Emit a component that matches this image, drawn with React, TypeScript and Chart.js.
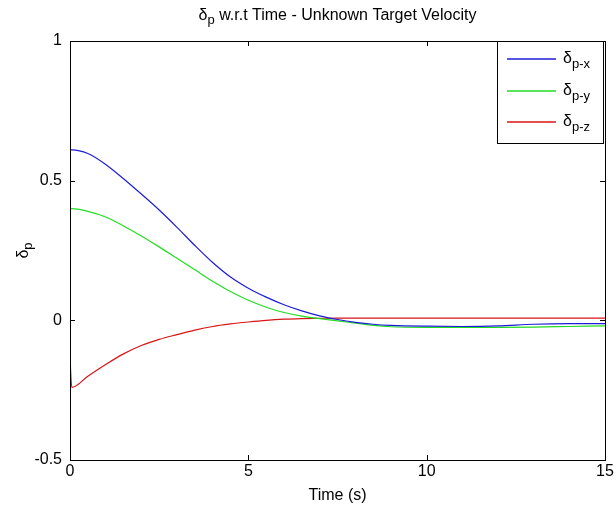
import React, { useEffect, useRef } from 'react';
import { Chart, registerables } from 'chart.js';

Chart.register(...registerables);

// ---- data ----
const timeS = [0, 0.05, 0.5, 1, 1.5, 2, 2.5, 3, 3.5, 4, 4.5, 5, 5.5, 6, 6.5, 7, 7.5, 8, 8.5, 9, 10, 11, 12, 13, 14, 15];
const deltaPX = [0.61, 0.61, 0.597, 0.558, 0.507, 0.452, 0.395, 0.333, 0.268, 0.207, 0.155, 0.115, 0.083, 0.056, 0.034, 0.016, 0.003, -0.007, -0.014, -0.018, -0.021, -0.022, -0.02, -0.014, -0.012, -0.012];
const deltaPY = [0.4, 0.4, 0.39, 0.37, 0.338, 0.302, 0.263, 0.222, 0.181, 0.14, 0.103, 0.072, 0.047, 0.028, 0.015, 0.006, -0.002, -0.01, -0.018, -0.023, -0.025, -0.025, -0.025, -0.024, -0.022, -0.02];
const deltaPZ = [-0.135, -0.24, -0.2, -0.158, -0.12, -0.09, -0.068, -0.051, -0.035, -0.022, -0.013, -0.006, 0.0, 0.004, 0.006, 0.007, 0.008, 0.008, 0.008, 0.008, 0.008, 0.008, 0.008, 0.008, 0.008, 0.008];

const seriesSubs = ['p-x', 'p-y', 'p-z'];
const seriesColors = ['#1c1cd6', '#22dd22', '#d81414'];
const xTickValues = [0, 5, 10, 15];
const yTickValues = [-0.5, 0, 0.5, 1];

const titleMain = 'δ';
const titleSub = 'p';
const titleRest = ' w.r.t Time - Unknown Target Velocity';
const xLabel = 'Time (s)';
const yLabelMain = 'δ';
const yLabelSub = 'p';

const FONT = '"Liberation Sans", Arial, sans-serif';

function measureSubText(
  ctx: CanvasRenderingContext2D,
  main: string,
  sub: string,
  rest: string,
  size: number,
  subSize: number
): number {
  ctx.font = `${size}px ${FONT}`;
  const w1 = ctx.measureText(main).width;
  ctx.font = `${subSize}px ${FONT}`;
  const w2 = ctx.measureText(sub).width;
  ctx.font = `${size}px ${FONT}`;
  const w3 = rest ? ctx.measureText(rest).width : 0;
  return w1 + w2 + w3;
}

function renderSubText(
  ctx: CanvasRenderingContext2D,
  x: number,
  y: number,
  main: string,
  sub: string,
  rest: string,
  size: number,
  subSize: number,
  subDrop: number
) {
  ctx.textAlign = 'left';
  ctx.textBaseline = 'alphabetic';
  ctx.font = `${size}px ${FONT}`;
  ctx.fillText(main, x, y);
  const w1 = ctx.measureText(main).width;
  ctx.font = `${subSize}px ${FONT}`;
  ctx.fillText(sub, x + w1, y + subDrop);
  const w2 = ctx.measureText(sub).width;
  if (rest) {
    ctx.font = `${size}px ${FONT}`;
    ctx.fillText(rest, x + w1 + w2, y);
  }
}

const matlabPlugin = {
  id: 'matlabDecor',
  afterDraw(chart: any) {
    const ctx: CanvasRenderingContext2D = chart.ctx;
    const { left, right, top, bottom } = chart.chartArea;
    const xs = chart.scales.x;
    const ys = chart.scales.y;
    ctx.save();
    ctx.fillStyle = '#000';
    ctx.strokeStyle = '#000';
    ctx.lineWidth = 1;
    // frame
    ctx.strokeRect(Math.round(left) + 0.5, Math.round(top) + 0.5, Math.round(right - left), Math.round(bottom - top));
    // inward ticks
    const tl = 5;
    ctx.beginPath();
    xTickValues.forEach((v) => {
      const px = Math.round(xs.getPixelForValue(v)) + 0.5;
      ctx.moveTo(px, bottom);
      ctx.lineTo(px, bottom - tl);
      ctx.moveTo(px, top);
      ctx.lineTo(px, top + tl);
    });
    yTickValues.forEach((v) => {
      const py = Math.round(ys.getPixelForValue(v)) + 0.5;
      ctx.moveTo(left, py);
      ctx.lineTo(left + tl, py);
      ctx.moveTo(right, py);
      ctx.lineTo(right - tl, py);
    });
    ctx.stroke();

    // title
    const tSize = 16;
    const tw = measureSubText(ctx, titleMain, titleSub, titleRest, tSize, 13);
    const cx = (left + right) / 2;
    renderSubText(ctx, cx - tw / 2, 20, titleMain, titleSub, titleRest, tSize, 13, 4);

    // x label
    ctx.font = `16px ${FONT}`;
    ctx.textAlign = 'center';
    ctx.textBaseline = 'alphabetic';
    ctx.fillText(xLabel, cx, 500);

    // y label (rotated)
    ctx.save();
    const cy = (top + bottom) / 2;
    ctx.translate(28, cy);
    ctx.rotate(-Math.PI / 2);
    const yw = measureSubText(ctx, yLabelMain, yLabelSub, '', 16, 13);
    renderSubText(ctx, -yw / 2, 0, yLabelMain, yLabelSub, '', 16, 13, 4);
    ctx.restore();

    // legend
    const bx = 497.5, by = top + 0.5, bw = 106, bh = 102;
    ctx.fillStyle = '#fff';
    ctx.fillRect(bx, by, bw, bh);
    ctx.strokeStyle = '#000';
    ctx.lineWidth = 1;
    ctx.strokeRect(bx, by, bw, bh);
    const rows = [59, 91, 122];
    rows.forEach((ry, i) => {
      ctx.strokeStyle = seriesColors[i];
      ctx.lineWidth = 1.4;
      ctx.beginPath();
      ctx.moveTo(507, ry);
      ctx.lineTo(556, ry);
      ctx.stroke();
      ctx.fillStyle = '#000';
      renderSubText(ctx, 563, ry + 4, 'δ', seriesSubs[i], '', 16, 13, 5);
    });
    ctx.restore();
  },
};

export default function App() {
  const canvasRef = useRef<HTMLCanvasElement | null>(null);

  useEffect(() => {
    const canvas = canvasRef.current;
    if (!canvas) return;
    const mk = (arr: number[]) => timeS.map((t, i) => ({ x: t, y: arr[i] }));
    const chart = new Chart(canvas, {
      type: 'line',
      data: {
        datasets: [deltaPX, deltaPY, deltaPZ].map((arr, i) => ({
          label: 'δ' + seriesSubs[i],
          data: mk(arr),
          borderColor: seriesColors[i],
          backgroundColor: seriesColors[i],
          borderWidth: 1.2,
          pointRadius: 0,
          fill: false,
          cubicInterpolationMode: 'monotone' as const,
        })),
      },
      plugins: [matlabPlugin],
      options: {
        animation: false,
        responsive: false,
        maintainAspectRatio: false,
        devicePixelRatio: 1,
        layout: { padding: { left: 0, right: 11, top: 41, bottom: 0 } },
        plugins: {
          legend: { display: false },
          title: { display: false },
          tooltip: { enabled: false },
        },
        scales: {
          x: {
            type: 'linear',
            min: 0,
            max: 15,
            afterFit: (s: any) => { s.height = 52; },
            afterBuildTicks: (s: any) => { s.ticks = xTickValues.map((v) => ({ value: v })); },
            grid: { display: false, drawTicks: false },
            border: { display: false },
            ticks: { color: '#000', font: { family: FONT, size: 16 }, padding: 2, maxRotation: 0 },
          },
          y: {
            type: 'linear',
            min: -0.5,
            max: 1,
            afterFit: (s: any) => { s.width = 70; },
            afterBuildTicks: (s: any) => { s.ticks = yTickValues.map((v) => ({ value: v })); },
            grid: { display: false, drawTicks: false },
            border: { display: false },
            ticks: {
              color: '#000',
              font: { family: FONT, size: 16 },
              padding: 8,
              callback: (v: any) => String(v),
            },
          },
        },
      },
    });
    return () => chart.destroy();
  }, []);

  return (
    <div style={{ position: 'fixed', left: 0, top: 0, width: 616, height: 512, background: '#fff' }}>
      <canvas ref={canvasRef} width={616} height={512} style={{ display: 'block', width: 616, height: 512 }} />
    </div>
  );
}
